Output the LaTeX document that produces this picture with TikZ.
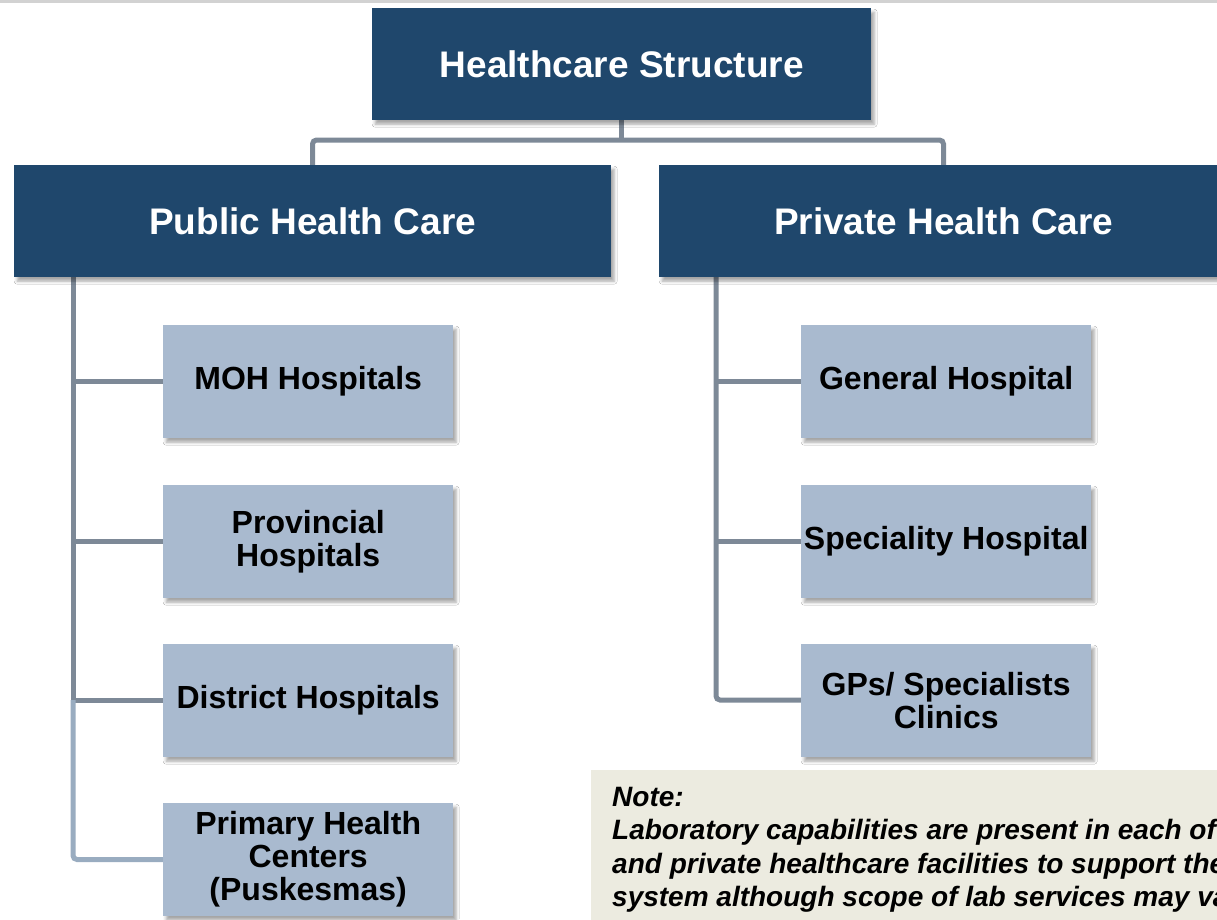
\documentclass[tikz,border=0pt]{standalone}
\usepackage{fontspec}
\setmainfont{Liberation Sans}
\usetikzlibrary{shadows.blur}
\definecolor{dblue}{HTML}{1F476C}
\definecolor{lblue}{HTML}{A9BACF}
\definecolor{lineg}{HTML}{7D8997}
\definecolor{linel}{HTML}{99ACC0}
\definecolor{notebg}{HTML}{ECEBE0}
\begin{document}
\begin{tikzpicture}[x=1pt,y=-1pt,
  shad/.style={blur shadow={shadow xshift=3pt, shadow yshift=-4pt, shadow blur radius=3pt, shadow opacity=35}},
  topbox/.style={fill=dblue, text=white, font=\fontsize{37}{42}\selectfont\bfseries, anchor=north west, inner sep=0pt, minimum height=112pt, shad},
  childbox/.style={fill=lblue, text=black, font=\fontsize{32}{33}\selectfont\bfseries, align=center, minimum width=290pt, minimum height=113pt, anchor=north west, inner sep=0pt, shad},
  conn/.style={draw=lineg, line width=5pt, rounded corners=4pt},
  connl/.style={draw=linel, line width=5pt, rounded corners=4pt}
]
\clip (0,0) rectangle (1217,919);
\fill[white] (0,0) rectangle (1217,919);
\draw[gray!35, line width=3pt] (0,1) -- (1217,1);

% coordinates for connectors
\coordinate (jn) at (621,140);
\coordinate (lstem) at (73,277);
\coordinate (lmid) at (73,700);
\coordinate (rstem) at (716,277);

% connectors (drawn beneath the boxes)
\draw[conn] (621,120) -- (jn);
\draw[conn] (312.5,165) |- (jn) -| (943.5,165);
\draw[conn] (lstem) -- (lmid);
\draw[conn] (73,381.5) -- (163,381.5);
\draw[conn] (73,541.5) -- (163,541.5);
\draw[conn] (lmid) -- (163,700);
\draw[connl] (lmid) |- (163,859.5);
\draw[conn] (rstem) |- (801,700);
\draw[conn] (716,381.5) -- (801,381.5);
\draw[conn] (716,541.5) -- (801,541.5);

% boxes
\node[topbox, minimum width=499pt] (title) at (372,8) {Healthcare Structure};
\node[topbox, minimum width=597pt] (pub) at (14,165) {Public Health Care};
\node[topbox, minimum width=569pt] (priv) at (659,165) {Private Health Care};

\node[childbox] (moh) at (163,325) {MOH Hospitals};
\node[childbox] (prov) at (163,485) {Provincial\\Hospitals};
\node[childbox] (dist) at (163,644) {District Hospitals};
\node[childbox] (phc) at (163,803) {Primary Health\\Centers\\(Puskesmas)};

\node[childbox] (gen) at (801,325) {General Hospital};
\node[childbox] (spec) at (801,485) {Speciality Hospital};
\node[childbox] (gps) at (801,644) {GPs/ Specialists\\Clinics};

% note
\node[fill=notebg, anchor=north west, inner sep=0pt, minimum width=640pt, minimum height=160pt] (note) at (591,770) {};
\node[anchor=north west, inner sep=0pt, align=left, font=\fontsize{28}{33.4}\selectfont\bfseries\itshape] (notetext) at (612,787)
 {Note:\\Laboratory capabilities are present in each of\\and private healthcare facilities to support the\\system although scope of lab services may va};
\end{tikzpicture}
\end{document}
